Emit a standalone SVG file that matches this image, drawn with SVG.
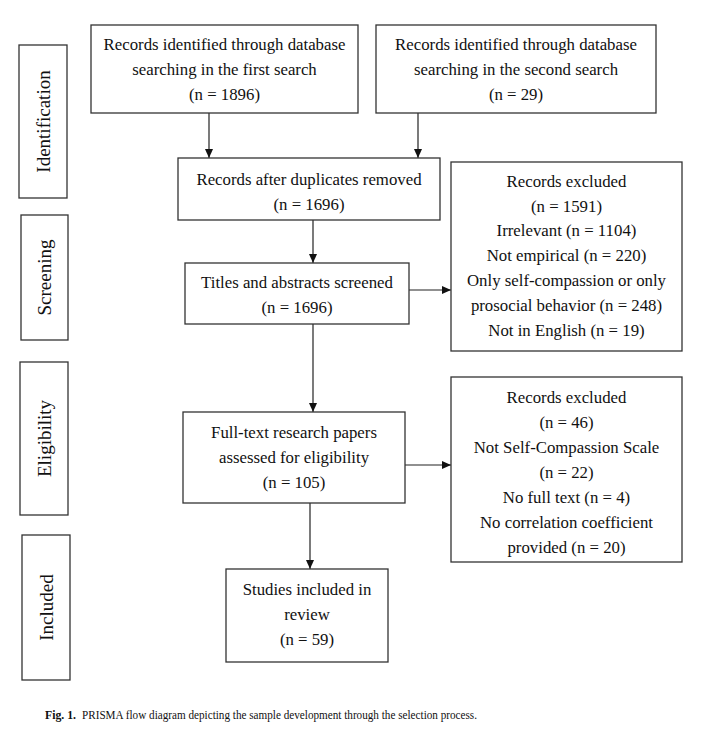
<svg xmlns="http://www.w3.org/2000/svg" width="702" height="736" viewBox="0 0 702 736">
<style>
.b{fill:#fff;stroke:#333;stroke-width:1.3}
.t{font-family:"Liberation Serif","Times New Roman",serif;font-size:16.8px;fill:#111;text-anchor:middle}
.s{font-family:"Liberation Serif","Times New Roman",serif;font-size:19px;fill:#111;text-anchor:middle}
.c{stroke:#222;stroke-width:1.2;fill:none;marker-end:url(#ah)}
.cap{font-family:"Liberation Serif","Times New Roman",serif;font-size:13.5px;fill:#111}
</style>
<defs>
<marker id="ah" markerWidth="10" markerHeight="10" refX="9" refY="5" orient="auto" markerUnits="userSpaceOnUse">
<path d="M0,1 L9,5 L0,9 Z" fill="#111"/>
</marker>
</defs>
<rect width="702" height="736" fill="#fff"/>
<g id="stage-identification"><rect class="b" x="19" y="45" width="48" height="153"/><text class="s" transform="translate(49.5,121.5) rotate(-90)">Identification</text></g>
<g id="stage-screening"><rect class="b" x="21" y="215" width="47" height="125"/><text class="s" transform="translate(51,277.5) rotate(-90)">Screening</text></g>
<g id="stage-eligibility"><rect class="b" x="20" y="362" width="48" height="153"/><text class="s" transform="translate(50.5,438.5) rotate(-90)">Eligibility</text></g>
<g id="stage-included"><rect class="b" x="22" y="535" width="48" height="145"/><text class="s" transform="translate(52.5,607.5) rotate(-90)">Included</text></g>
<g id="connectors">
<line class="c" x1="209" y1="113" x2="209" y2="158"/>
<line class="c" x1="418" y1="113" x2="418" y2="158"/>
<line class="c" x1="313" y1="220" x2="313" y2="263"/>
<line class="c" x1="409" y1="290" x2="451" y2="290"/>
<line class="c" x1="313" y1="324" x2="313" y2="412"/>
<line class="c" x1="405" y1="465" x2="451" y2="465"/>
<line class="c" x1="310" y1="503" x2="310" y2="569"/>
</g>
<g id="n1"><rect class="b" x="91" y="25" width="267" height="88"/>
<text class="t" x="224.5" y="50">Records identified through database</text>
<text class="t" x="224.5" y="75">searching in the first search</text>
<text class="t" x="224.5" y="100">(n = 1896)</text></g>
<g id="n2"><rect class="b" x="376" y="25" width="280" height="88"/>
<text class="t" x="516" y="50">Records identified through database</text>
<text class="t" x="516" y="75">searching in the second search</text>
<text class="t" x="516" y="100">(n = 29)</text></g>
<g id="n3"><rect class="b" x="178" y="158" width="262" height="62"/>
<text class="t" x="309" y="185">Records after duplicates removed</text>
<text class="t" x="309" y="210">(n = 1696)</text></g>
<g id="n4"><rect class="b" x="185" y="263" width="224" height="61"/>
<text class="t" x="297" y="288">Titles and abstracts screened</text>
<text class="t" x="297" y="313">(n = 1696)</text></g>
<g id="n5"><rect class="b" x="451" y="162" width="231" height="189"/>
<text class="t" x="566.5" y="187">Records excluded</text>
<text class="t" x="566.5" y="212">(n = 1591)</text>
<text class="t" x="566.5" y="236">Irrelevant (n = 1104)</text>
<text class="t" x="566.5" y="261">Not empirical (n = 220)</text>
<text class="t" x="566.5" y="286">Only self-compassion or only</text>
<text class="t" x="566.5" y="311">prosocial behavior (n = 248)</text>
<text class="t" x="566.5" y="336">Not in English (n = 19)</text></g>
<g id="n6"><rect class="b" x="183" y="412" width="222" height="91"/>
<text class="t" x="294" y="438">Full-text research papers</text>
<text class="t" x="294" y="463">assessed for eligibility</text>
<text class="t" x="294" y="488">(n = 105)</text></g>
<g id="n7"><rect class="b" x="451" y="377" width="231" height="185"/>
<text class="t" x="566.5" y="403">Records excluded</text>
<text class="t" x="566.5" y="428">(n = 46)</text>
<text class="t" x="566.5" y="453">Not Self-Compassion Scale</text>
<text class="t" x="566.5" y="478">(n = 22)</text>
<text class="t" x="566.5" y="503">No full text (n = 4)</text>
<text class="t" x="566.5" y="528">No correlation coefficient</text>
<text class="t" x="566.5" y="553">provided (n = 20)</text></g>
<g id="n8"><rect class="b" x="226" y="569" width="162" height="93"/>
<text class="t" x="307" y="595">Studies included in</text>
<text class="t" x="307" y="620">review</text>
<text class="t" x="307" y="645">(n = 59)</text></g>
<g id="caption">
<text class="cap" x="45" y="719" font-weight="bold" textLength="31" lengthAdjust="spacingAndGlyphs">Fig. 1.</text>
<text class="cap" x="82" y="719" textLength="395" lengthAdjust="spacingAndGlyphs">PRISMA flow diagram depicting the sample development through the selection process.</text>
</g>
</svg>
